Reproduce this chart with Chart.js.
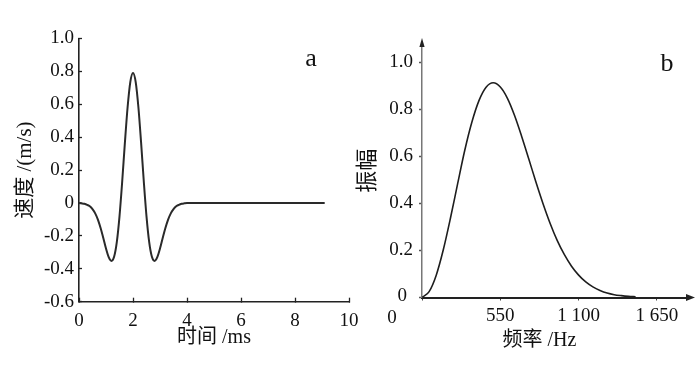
<!DOCTYPE html>
<html><head><meta charset="utf-8">
<script src="https://cdn.jsdelivr.net/npm/chart.js@4.4.1/dist/chart.umd.min.js"></script>
<style>
html,body{margin:0;padding:0;background:#fff;}
#wrap{position:relative;width:700px;height:367px;overflow:hidden;background:#fff;}
#boxA{position:absolute;left:0;top:0;width:380px;height:367px;}
#boxB{position:absolute;left:350px;top:0;width:350px;height:367px;}
</style></head><body>
<div id="wrap">
  <div id="boxA"><canvas id="cA" width="380" height="367"></canvas></div>
  <div id="boxB"><canvas id="cB" width="350" height="367"></canvas></div>
</div>
<script>
// ---- Panel a: velocity vs time ----
const timeMs = [0,0.1,0.2,0.3,0.4,0.5,0.6,0.7,0.8,0.9,1.0,1.1,1.2,1.3,1.4,1.5,1.6,1.7,1.8,1.9,2.0,
                2.1,2.2,2.3,2.4,2.5,2.6,2.7,2.8,2.9,3.0,3.1,3.2,3.3,3.4,3.5,3.6,3.7,3.8,3.9,4.0,9.1];
const velocity = [0,-0.002,-0.005,-0.011,-0.020,-0.037,-0.063,-0.101,-0.152,-0.213,-0.277,-0.329,-0.352,-0.327,-0.238,-0.081,0.131,0.367,0.582,0.735,0.790,
                  0.735,0.582,0.367,0.131,-0.081,-0.238,-0.327,-0.352,-0.329,-0.277,-0.213,-0.152,-0.101,-0.063,-0.037,-0.020,-0.011,-0.005,-0.002,0,0];
const timeTicks = [0,2,4,6,8,10];
const velocityTicks = [-0.6,-0.4,-0.2,0,0.2,0.4,0.6,0.8,1.0];
const velocityTickLabels = ['-0.6','-0.4','-0.2','0','0.2','0.4','0.6','0.8','1.0'];

// ---- Panel b: amplitude spectrum ----
const freqHz = [0,50,100,150,200,250,300,350,400,450,500,550,600,650,700,750,800,850,900,950,1000,
                1050,1100,1150,1200,1250,1300,1350,1400,1450,1500];
const amplitude = [0,0.025,0.095,0.204,0.338,0.483,0.625,0.745,0.837,0.894,0.913,0.895,0.847,0.774,0.685,0.589,0.491,0.399,0.315,0.242,0.182,
                   0.133,0.095,0.066,0.045,0.030,0.019,0.012,0.008,0.005,0.003];
const freqTicks = [0,550,1100,1650];
const freqTickLabels = ['0','550','1 100','1 650'];
const ampTicks = [0,0.2,0.4,0.6,0.8,1.0];
const ampTickLabels = ['0','0.2','0.4','0.6','0.8','1.0'];

const SERIF = "'Liberation Serif', 'Noto Sans CJK SC', serif";
Chart.defaults.font.family = SERIF;
Chart.defaults.color = '#111';
Chart.defaults.animation = false;

const panelLabel = {
  id: 'panelLabel',
  afterDraw(chart, args, opts) {
    const ctx = chart.ctx;
    ctx.save();
    ctx.font = '26px ' + SERIF;
    ctx.fillStyle = '#111';
    ctx.textAlign = 'center';
    ctx.textBaseline = 'middle';
    ctx.fillText(opts.text, opts.x, opts.y);
    ctx.restore();
  }
};

const rightExtras = {
  id: 'rightExtras',
  afterDraw(chart) {
    const {ctx, chartArea: ca, scales: {x, y}} = chart;
    ctx.save();
    ctx.fillStyle = '#222';
    const x0 = x.getPixelForValue(0);
    const y0 = y.getPixelForValue(0);
    // up arrow on y axis
    ctx.beginPath();
    ctx.moveTo(x0, ca.top - 6);
    ctx.lineTo(x0 - 2.6, ca.top + 3);
    ctx.lineTo(x0 + 2.6, ca.top + 3);
    ctx.closePath(); ctx.fill();
    // right arrow on x axis
    ctx.beginPath();
    ctx.moveTo(ca.right + 6, y0);
    ctx.lineTo(ca.right - 3, y0 - 3.5);
    ctx.lineTo(ca.right - 3, y0 + 3.5);
    ctx.closePath(); ctx.fill();
    // separate "0" labels
    ctx.font = '19px ' + SERIF;
    ctx.fillStyle = '#111';
    ctx.textBaseline = 'middle';
    ctx.textAlign = 'right';
    ctx.fillText(ampTickLabels[0], x0 - 15, y0 - 1);
    ctx.textAlign = 'center';
    ctx.fillText(freqTickLabels[0], x0 - 30, y0 + 21);
    // x axis title
    ctx.font = '20px ' + SERIF;
    ctx.fillText('频率 /Hz', x.getPixelForValue(825), 341);
    ctx.restore();
  }
};

new Chart(document.getElementById('cA'), {
  type: 'line',
  data: { datasets: [{
    data: timeMs.map((t, i) => ({x: t, y: velocity[i]})),
    borderColor: '#2a2a2a', borderWidth: 2, pointRadius: 0,
    cubicInterpolationMode: 'monotone', fill: false
  }]},
  options: {
    responsive: false,
    layout: { padding: { left: 0, top: 38.5, right: 31, bottom: 0 } },
    plugins: { legend: { display: false }, tooltip: { enabled: false },
      panelLabel: { text: 'a', x: 311, y: 59 } },
    scales: {
      x: {
        type: 'linear', min: 0, max: 10,
        afterBuildTicks: s => { s.ticks = timeTicks.map(v => ({value: v})); },
        afterFit: s => { s.height = 65.3; },
        ticks: { font: { size: 19 }, padding: 11.6, color: '#111', maxRotation: 0, autoSkip: false,
          callback: v => String(v) },
        grid: { drawOnChartArea: false, tickLength: -4, color: '#222', tickWidth: 1.3 },
        border: { color: '#222', width: 1.6 },
        title: { display: true, text: '时间 /ms', font: { size: 20 }, color: '#111', padding: { top: 0, bottom: 17 } }
      },
      y: {
        type: 'linear', min: -0.6, max: 1.0,
        afterBuildTicks: s => { s.ticks = velocityTicks.map(v => ({value: v})); },
        afterFit: s => { s.width = 79; },
        ticks: { font: { size: 19 }, padding: 8, color: '#111',
          callback: (v, i) => velocityTickLabels[i] },
        grid: { drawOnChartArea: false, tickLength: -3, color: '#222', tickWidth: 1.3 },
        border: { color: '#222', width: 1.6 },
        title: { display: true, text: '速度 /(m/s)', font: { size: 21 }, color: '#111', padding: { top: 12.4, bottom: 0 } }
      }
    }
  },
  plugins: [panelLabel]
});

new Chart(document.getElementById('cB'), {
  type: 'line',
  data: { datasets: [{
    data: freqHz.map((f, i) => ({x: f, y: amplitude[i]})),
    borderColor: '#1e1e1e', borderWidth: 1.6, pointRadius: 0,
    cubicInterpolationMode: 'monotone', fill: false
  }]},
  options: {
    responsive: false,
    layout: { padding: { left: 0, top: 44, right: 11, bottom: 0 } },
    plugins: { legend: { display: false }, tooltip: { enabled: false },
      panelLabel: { text: 'b', x: 317, y: 64 } },
    scales: {
      x: {
        type: 'linear', min: 0, max: 1875,
        afterBuildTicks: s => { s.ticks = freqTicks.map(v => ({value: v})); },
        afterFit: s => { s.height = 69.5; },
        ticks: { font: { size: 19 }, padding: 4.6, color: '#111', maxRotation: 0, autoSkip: false,
          callback: (v, i) => i === 0 ? '' : freqTickLabels[i] },
        grid: { drawOnChartArea: false, tickLength: 3, color: '#444', tickWidth: 1 },
        border: { color: '#222', width: 2 }
      },
      y: {
        type: 'linear', min: 0, max: 1.078,
        afterBuildTicks: s => { s.ticks = ampTicks.map(v => ({value: v})); },
        afterFit: s => { s.width = 72; },
        ticks: { font: { size: 19 }, padding: 6, color: '#111',
          callback: (v, i) => i === 0 ? '' : ampTickLabels[i] },
        grid: { drawOnChartArea: false, tickLength: 3, color: '#555', tickWidth: 1.3 },
        border: { color: '#777', width: 1.5 },
        title: { display: true, text: '振幅', font: { size: 22 }, color: '#111', padding: { top: 4.8, bottom: 0 } }
      }
    }
  },
  plugins: [panelLabel, rightExtras]
});
</script>
</body></html>
